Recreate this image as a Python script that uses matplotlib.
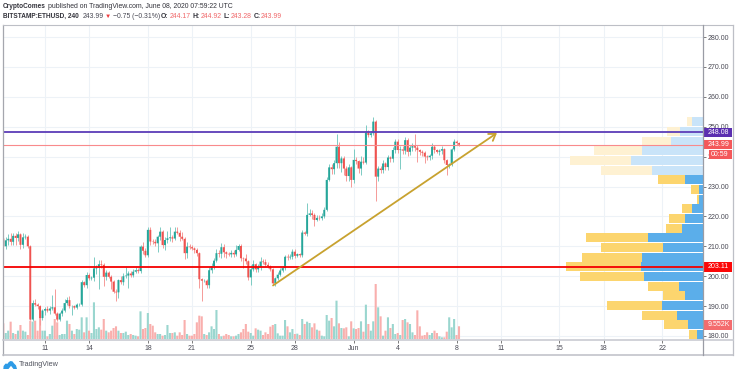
import matplotlib
matplotlib.use("Agg")
import matplotlib.pyplot as plt
from matplotlib.lines import Line2D
from matplotlib.patches import Polygon, Rectangle

plt.rcParams['font.family'] = ['Liberation Sans', 'DejaVu Sans']

W, H = 736, 375
LEFT, RIGHT, TOP, BOTTOM = 3.3, 702.5, 25.0, 340.0

open_first = 212.6
closes = [
    210.0,212.0,212.5,211.5,213.5,212.8,214.0,210.5,213.0,213.2,
    210.0,185.5,191.0,190.5,190.0,186.0,188.5,189.0,188.5,189.2,
    189.6,187.5,185.5,187.5,188.5,191.0,192.0,190.0,190.0,189.5,
    190.5,190.5,198.0,197.0,200.4,199.3,199.5,202.6,202.8,204.0,
    203.8,199.8,201.2,199.8,198.2,194.8,194.6,198.7,198.0,200.0,
    200.2,200.9,200.3,201.5,202.0,201.7,209.9,208.5,207.0,215.5,
    211.6,211.5,211.0,213.2,214.9,210.4,212.1,212.7,213.0,212.6,
    214.9,214.5,213.2,212.5,207.7,209.9,209.7,209.3,208.8,207.7,
    199.0,198.5,198.5,197.0,202.0,203.4,205.2,207.7,207.5,209.7,
    208.0,207.5,207.3,207.8,207.3,208.8,210.1,206.0,205.9,205.0,
    199.6,202.3,204.0,202.3,203.0,204.9,204.7,203.8,203.4,202.3,
    197.6,199.3,200.5,201.9,202.7,206.5,206.3,206.5,208.2,206.8,
    207.4,207.0,214.6,214.2,220.5,221.0,220.5,218.8,219.5,219.4,
    220.0,222.2,232.2,236.4,235.8,237.8,243.3,237.8,239.4,236.0,
    233.5,236.4,232.2,238.9,238.5,236.0,238.3,238.0,248.0,247.2,
    247.8,251.7,233.3,236.0,235.5,237.7,236.5,239.7,239.3,242.2,
    245.0,242.2,242.4,242.0,245.5,241.6,243.0,243.5,243.0,242.2,
    241.6,241.3,240.0,239.8,240.3,243.3,242.2,241.6,242.0,242.5,
    238.8,237.2,237.4,242.4,245.0,244.5,243.99,
]
wick_up = [
    1.0,1.2,1.5,2.0,1.0,1.0,1.2,0.5,1.5,1.0,
    0.5,0.3,1.0,1.5,0.5,0.5,0.5,0.8,1.0,1.0,
    4.0,6.0,0.5,0.5,0.8,1.5,1.0,1.5,0.5,0.5,
    0.5,0.5,0.8,0.5,1.0,0.8,0.5,3.7,1.0,1.5,
    1.5,0.5,1.0,0.5,0.5,0.5,0.8,0.5,1.5,1.0,
    3.0,0.8,0.8,1.0,1.0,0.8,0.5,1.5,1.0,1.0,
    0.8,1.0,1.0,0.5,1.5,0.5,1.0,2.5,3.5,0.8,
    1.5,1.5,1.0,1.5,0.5,1.5,1.0,0.8,0.5,0.5,
    0.5,0.5,0.5,0.5,1.0,1.0,0.8,1.5,1.0,1.5,
    1.0,0.5,0.5,0.8,1.0,1.5,0.7,0.8,0.5,1.5,
    0.5,1.5,1.5,0.5,1.2,1.5,1.0,1.0,0.8,0.5,
    0.5,0.5,0.8,0.8,0.8,0.5,1.0,1.0,1.0,1.0,
    0.5,0.5,1.0,0.5,4.0,1.5,1.0,0.5,1.0,1.0,
    1.0,1.0,1.0,1.0,1.0,1.0,4.2,1.5,0.8,0.8,
    1.0,1.0,0.5,3.5,1.0,0.5,2.0,1.5,2.5,0.8,
    0.8,1.7,0.5,1.0,0.8,1.0,0.5,1.0,0.5,1.0,
    1.0,1.0,1.0,1.0,1.0,0.8,1.0,1.0,4.0,1.0,
    0.5,0.5,0.5,0.5,0.5,1.2,0.5,0.5,0.5,1.0,
    0.5,0.5,0.5,0.5,0.8,0.6,0.4,
]
wick_dn = [
    0.5,1.0,1.5,1.0,1.0,2.5,1.0,1.5,1.0,0.5,
    0.5,0.3,0.5,0.5,1.0,2.3,0.5,1.5,0.5,1.0,
    0.5,0.5,0.5,0.5,0.8,0.5,0.5,0.5,3.0,0.5,
    0.5,0.5,0.5,0.5,1.0,0.5,0.5,1.0,2.0,7.0,
    1.0,3.0,1.0,0.5,2.5,0.5,3.0,2.0,0.5,0.8,
    0.5,4.0,0.5,0.5,0.5,0.5,0.5,1.0,0.5,0.5,
    1.0,0.8,1.0,3.0,1.0,1.0,1.5,1.0,1.0,1.0,
    0.5,0.5,1.5,0.5,2.0,1.5,0.5,0.5,1.0,1.0,
    3.0,6.8,0.5,1.0,1.0,1.0,1.0,0.5,1.0,1.5,
    1.5,1.5,0.5,1.0,1.0,0.5,0.5,1.0,3.0,1.0,
    1.0,2.5,0.5,1.0,0.8,1.0,0.5,0.5,0.8,0.5,
    0.5,1.0,0.5,0.5,0.5,0.5,0.8,0.5,0.8,0.8,
    0.5,0.5,0.5,0.5,0.8,0.5,1.5,2.0,0.5,0.5,
    0.5,0.5,0.5,0.5,1.5,1.5,1.5,1.5,3.0,2.0,
    1.5,1.5,2.5,1.0,1.0,1.5,2.0,0.5,0.5,0.5,
    0.5,0.5,8.3,1.5,1.0,1.0,1.0,1.0,1.0,1.0,
    1.0,1.0,6.5,1.0,1.0,1.5,1.0,1.0,1.0,4.0,
    1.0,1.0,2.2,1.0,1.0,1.0,1.0,0.5,1.0,1.0,
    1.0,3.4,1.0,0.5,0.5,0.5,0.3,
]
# volume in thousands
volumes = [
    11.75,4.5,6.25,13.0,4.5,3.75,6.25,10.5,6.25,5.5,
    3.0,13.75,13.0,13.75,6.25,16.25,6.25,6.25,2.0,3.75,
    10.0,15.0,12.5,3.0,3.75,3.75,13.75,11.25,6.25,3.75,
    7.5,7.0,16.25,5.0,16.25,6.25,4.5,27.5,7.5,8.75,
    7.0,15.0,6.25,5.0,6.25,8.25,9.5,6.25,4.5,4.5,
    5.5,3.0,3.75,3.0,2.5,2.0,20.75,7.5,8.25,19.5,
    11.25,10.0,5.0,3.75,3.75,2.5,3.0,10.5,4.5,4.5,
    5.0,2.5,5.0,3.0,14.25,3.75,2.5,2.5,3.75,12.5,
    17.5,17.0,3.75,3.0,5.0,9.5,7.5,21.75,3.75,2.0,
    2.5,3.75,3.0,2.0,2.0,2.5,3.75,5.0,7.5,11.25,
    5.5,4.5,2.5,8.0,7.0,6.25,3.0,5.0,3.75,9.25,
    10.5,11.25,4.25,2.5,2.5,14.25,9.5,5.0,7.5,3.75,
    4.0,3.0,15.0,11.25,13.0,12.0,8.75,11.75,7.0,6.25,
    2.5,2.0,18.0,13.75,15.75,9.5,28.75,11.75,8.25,8.0,
    8.75,2.0,13.25,8.0,7.5,8.25,13.25,5.5,25.75,11.25,
    6.25,13.25,41.25,23.75,17.0,2.5,6.25,16.25,8.25,11.25,
    3.75,4.5,3.0,14.25,15.0,12.5,11.25,5.0,3.0,21.5,
    9.5,2.5,3.0,5.0,3.0,4.5,6.25,4.5,2.0,1.25,
    1.25,5.5,16.25,8.75,15.0,3.0,9.552,
]
vp_up = [17,45,77,122,52,71,177,185,182,119,164,62,53,32,11,12,54,152,215,181,95,68,32]
vp_down = [23,70,105,164,67,92,191,225,179,187,186,48,48,29,6,22,79,153,183,145,88,38,15]
vp_start = 179.0
vp_step = 3.234

price_ticks = [180,190,200,210,220,230,240,250,260,270,280]
time_ticks = [17,35,59,77,101,119,143,161,185,203,227,245,269]
time_labels = ['11','14','18','21','25','28','Jun','4','8','11','15','18','22']
arrow_start = (110.1, 196.9)
arrow_end = (201.5, 247.9)
last_price = 243.99
resistance = 248.08
support = 203.11
last_volume = '9.552K'
countdown = '00:59'

GREEN = '#26A69A'
RED = '#EF5350'
VG = '#9AD6CF'
VR = '#F9AFAD'

fig = plt.figure(figsize=(W/100, H/100), dpi=100, facecolor='white')
rect = [LEFT/W, 1-BOTTOM/H, (RIGHT-LEFT)/W, (BOTTOM-TOP)/H]

XLIM = (0, (RIGHT-LEFT)/2.45)
PX = 2.99
YLIM = (280-(BOTTOM-37)/PX, 280+(37-TOP)/PX)

# base axes: grid and ticks
ax = fig.add_axes(rect, zorder=1)
ax.set_xlim(XLIM); ax.set_ylim(YLIM)
ax.set_xticks(time_ticks, time_labels)
ax.set_yticks(price_ticks, [f'{v:.2f}' for v in price_ticks])
ax.yaxis.tick_right()
ax.grid(True, color='#EDF2F7', lw=0.8)
ax.set_axisbelow(True)
ax.tick_params(axis='both', length=2.5, width=0.6, color='#666666',
               labelcolor='#4A4A55', labelsize=5.0, pad=1.0)
for s in ax.spines.values():
    s.set_visible(False)

# volume
ax_vol = fig.add_axes(rect, zorder=2, sharex=ax)
ax_vol.patch.set_visible(False); ax_vol.axis('off')
ax_vol.set_ylim(-0.75, (339-TOP)*0.75)
opens = [open_first] + closes[:-1]
xs = list(range(len(closes)))
vcolors = [VG if c >= o else VR for o, c in zip(opens, closes)]
vbars = ax_vol.bar(xs, volumes, width=0.85, color=vcolors, linewidth=0)
for b in vbars:
    b.set_snap(False)

# volume profile
ax_vp = fig.add_axes(rect, zorder=3, sharey=ax)
ax_vp.patch.set_visible(False); ax_vp.axis('off')
ax_vp.set_xlim((RIGHT-LEFT)*3, 0)
rows = [vp_start + k*vp_step for k in range(len(vp_up))]
bc = ['#5BAEEA' if k <= 16 else '#C9E4F9' for k in range(len(rows))]
yc = ['#FCD56E' if k <= 16 else '#FEF1D2' for k in range(len(rows))]
ax_vp.barh(rows, vp_up, height=vp_step*0.93, align='edge', color=bc, linewidth=0)
ax_vp.barh(rows, vp_down, left=vp_up, height=vp_step*0.93, align='edge', color=yc, linewidth=0)

# price layer
ap = fig.add_axes(rect, zorder=4, sharex=ax, sharey=ax)
ap.patch.set_visible(False); ap.axis('off')
highs = [max(o, c)+u for o, c, u in zip(opens, closes, wick_up)]
lows = [min(o, c)-d for o, c, d in zip(opens, closes, wick_dn)]
ccol = [GREEN if c >= o else RED for o, c in zip(opens, closes)]
wcol = ['#7CCBC3' if c >= o else '#F59A98' for o, c in zip(opens, closes)]
ap.vlines(xs, lows, highs, colors=wcol, lw=0.7, zorder=2)
cbars = ap.bar(xs, [abs(c-o) for o, c in zip(opens, closes)],
               bottom=[min(o, c) for o, c in zip(opens, closes)],
               width=0.8, color=ccol, linewidth=0, zorder=3)
for b in cbars:
    b.set_snap(False)
ap.axhline(resistance, color='#5C3DB8', lw=1.3, zorder=4)
ap.axhline(support, color='#F40000', lw=1.3, zorder=4)
ap.axhline(last_price, color='#F98A8C', lw=0.8, zorder=4)
ap.annotate('', xy=arrow_end, xytext=arrow_start,
            arrowprops=dict(arrowstyle='->,head_length=0.45,head_width=0.3',
                            color='#C8A22F', lw=1.3, shrinkA=0, shrinkB=0), zorder=5)

tr = ap.get_yaxis_transform()
def axfrac(px):
    return (px-LEFT)/(RIGHT-LEFT)
def pricetag(val, txt, face, x0=702.7, xt=707.7):
    ap.add_patch(Rectangle((axfrac(x0), val-1.6), axfrac(731.7)-axfrac(x0), 3.2, transform=tr,
                           fc=face, ec='none', clip_on=False, zorder=9))
    ap.text(axfrac(xt), val, txt, transform=tr, ha='left', va='center', fontsize=5.0, color='white',
            clip_on=False, zorder=10)

pricetag(resistance, f'{resistance:.2f}', '#5B2FB0')
pricetag(last_price, f'{last_price:.2f}', '#F4585A')
pricetag(240.7, countdown, '#F4585A', x0=708.7, xt=711)
pricetag(support, f'{support:.2f}', '#FB0808')
pricetag(183.7, last_volume, '#F46C6E')

# frame
def pxline(x0, y0, x1, y1, color, lw):
    fig.add_artist(Line2D([x0/W, x1/W], [1-y0/H, 1-y1/H], color=color, lw=lw, zorder=20))
pxline(LEFT, TOP, LEFT, 354.7, '#A5A7AE', 0.9)
pxline(LEFT, TOP, 732.5, TOP, '#BDBFC6', 0.8)
pxline(732.5, TOP, 732.5, 354.7, '#BDBFC6', 0.9)
pxline(LEFT, 354.7, 732.5, 354.7, '#BDBFC6', 1.1)
pxline(LEFT, 340.3, 732.5, 340.3, '#C9CBD2', 1.2)
pxline(RIGHT, TOP, RIGHT, 354.7, '#9A9CA5', 0.9)

# header
def pxtext(x, y, s, color='#33333B', weight='normal', size=4.95):
    fig.text(x/W, 1-y/H, s, color=color, fontweight=weight, fontsize=size, ha='left', va='center')
pink = '#F0686A'
pxtext(3, 6.5, 'CryptoComes', weight='bold', size=4.7)
pxtext(47.7, 6.5, 'published on TradingView.com, June 08, 2020 07:59:22 UTC')
pxtext(3, 16, 'BITSTAMP:ETHUSD, 240', weight='bold', size=4.7)
pxtext(82.7, 16, '243.99', color='#4A4A55')
pxtext(105, 16, '\u25BC', color='#EF3D3F', size=4.5)
pxtext(113, 16, '\u22120.75 (\u22120.31%)', color='#4A4A55')
pxtext(161, 16, 'O:', weight='bold')
pxtext(170, 16, '244.17', color=pink)
pxtext(192.7, 16, 'H:', weight='bold')
pxtext(200.7, 16, '244.92', color=pink)
pxtext(223.3, 16, 'L:', weight='bold')
pxtext(230.7, 16, '243.28', color=pink)
pxtext(253.3, 16, 'C:', weight='bold')
pxtext(261, 16, '243.99', color=pink)

# TradingView logo
pxtext(19, 365, 'TradingView', color='#50535E', size=5.2)
cloud = [(3.3,369),(3.6,366),(5.5,363.6),(7.5,363.8),(8.8,362),(10.5,361),(12.5,361.4),(14,363.4),(16,365.4),(17,369),
         (13.5,369),(11,365.8),(8.5,369)]
fig.add_artist(Polygon([(x/W, 1-y/H) for x, y in cloud], closed=True, transform=fig.transFigure,
                       fc='#2E9BE6', ec='none'))

fig.savefig('out.png', dpi=100)
